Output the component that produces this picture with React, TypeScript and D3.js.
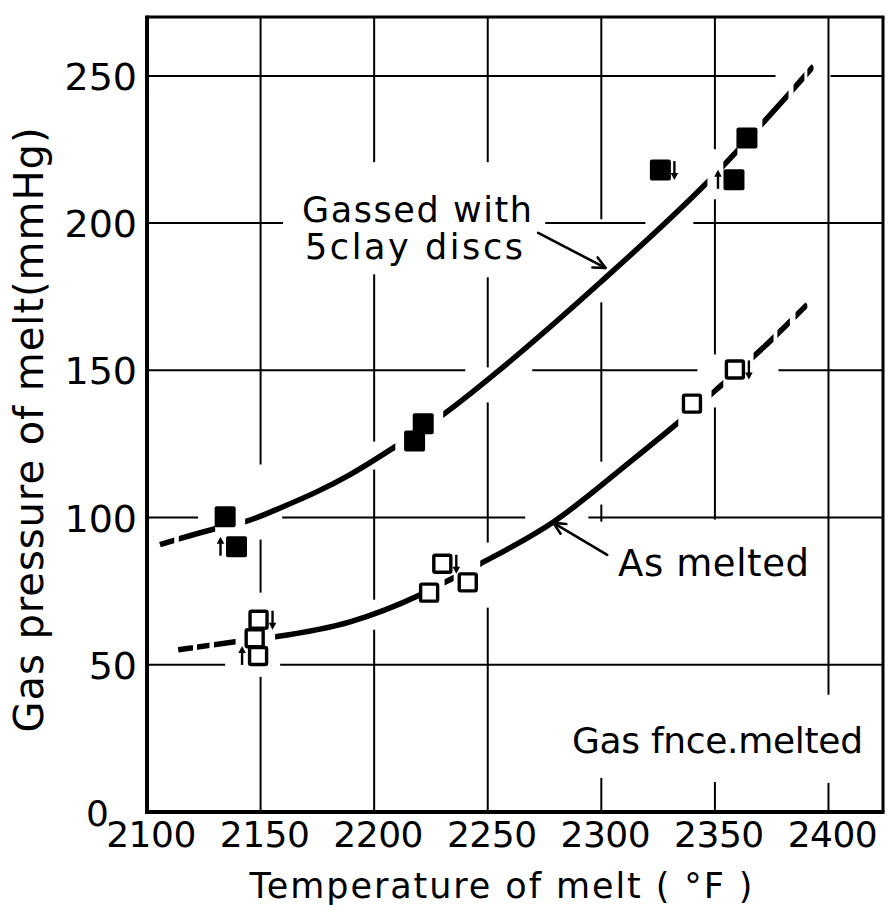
import React from 'react';
import * as d3 from 'd3';

// ---- axes ----
const xTicks = [2100, 2150, 2200, 2250, 2300, 2350, 2400];
const yTicks = [0, 50, 100, 150, 200, 250];
const xDomain = [2100, 2424];
const yDomain = [0, 270];

// ---- measured points: gassed with 5 clay discs (filled squares) ----
const gassedTemp = [2134.4, 2139.4, 2217.8, 2221.6, 2326, 2358.4, 2364.1];
const gassedPressure = [100.3, 90.1, 126, 131.9, 218, 214.7, 228.9];
const gassedArrow = ['', 'up', '', '', 'down', 'up', ''];

// ---- measured points: as melted (open squares) ----
const meltedTemp = [2147.4, 2149.1, 2148.9, 2224.2, 2230, 2241.2, 2339.9, 2358.8];
const meltedPressure = [59, 65.3, 53, 74.5, 84.3, 78, 138.7, 150.3];
const meltedArrow = ['', 'down', 'up', '', 'down', '', '', 'down'];

// ---- fitted curves ----
const gassedCurveT = [2105.7, 2130, 2143.2, 2159.9, 2174.9, 2189.4, 2209.3, 2230.4, 2255, 2299.6, 2346.7, 2393.4];
const gassedCurveP = [90.8, 96.2, 98.6, 103.7, 108.8, 114.6, 124.1, 135, 150, 179.9, 213.9, 253.3];
// visible pieces of the curve (dashes and solid runs), in °F
const gassedPieces = [
  [2105, 2112], [2114, 2130], [2143.2, 2209.3], [2230.4, 2346.7],
  [2353.7, 2359.9], [2370.9, 2382.4], [2384.6, 2389.4], [2390.7, 2393.4],
];

const meltedCurveT = [2113.7, 2138.8, 2156.4, 2189.4, 2220.3, 2232.6, 2246.7, 2278.9, 2312.8, 2333.9, 2350.7, 2371.4, 2390.7];
const meltedCurveP = [55.1, 57.8, 59.5, 64.6, 73.8, 78.6, 84.3, 98.5, 119, 132.3, 143.5, 157.8, 172.4];
const meltedPieces = [
  [2113.7, 2120.3], [2122, 2127.5], [2129.5, 2139], [2156.4, 2220.3], [2231, 2235],
  [2246.7, 2333.9], [2348.5, 2353.7], [2367, 2375.8], [2377.5, 2383], [2385.5, 2390.7],
];

// ---- gaps in the hand-drawn grid lines ----
const vGridGaps = [
  [],                                            // 2100 (axis)
  [[92.5, 118], [45.9, 74.5]],                   // 2150
  [[182.6, 220.7], [116.3, 125.8], [61.9, 72.1]], // 2200
  [[181.6, 220.7], [139.1, 151], [69.4, 91.5]],  // 2250
  [[173.1, 201.3], [104.4, 119], [11.6, 98.6]],  // 2300
  [[208.1, 225.1], [137.4, 155.4], [10.2, 99.3]], // 2350
  [[9.9, 39.8]],                                 // 2400
];
const hGridGaps = [
  [],                                            // 0 (axis)
  [[2134.4, 2158.6]],                            // 50
  [[2122.5, 2159.5], [2266.5, 2294.3]],          // 100
  [[2240.1, 2269.6], [2342.3, 2378]],            // 150
  [[2159.9, 2275.3], [2319.4, 2340.5]],          // 200
  [[2376.7, 2400.9]],                            // 250
];

// ---- annotations ----
const gassedLabel = ['Gassed with', '5clay discs'];
const meltedLabel = 'As melted';
const noteLabel = 'Gas fnce.melted';
const xTitle = 'Temperature of melt ( °F )';
const yTitle = 'Gas pressure of melt(mmHg)';
const gassedPointer = [[2272.2, 196.7], [2301.8, 184.8]];
const meltedPointer = [[2302.6, 87.3], [2278.9, 98.2]];

const FONT = "'DejaVu Sans', sans-serif";

function complement(gaps: number[][], lo: number, hi: number) {
  const g = [...gaps].sort((a, b) => a[0] - b[0]);
  const out: number[][] = [];
  let cur = lo;
  for (const [a, b] of g) {
    if (a > cur) out.push([cur, a]);
    cur = Math.max(cur, b);
  }
  if (cur < hi) out.push([cur, hi]);
  return out;
}

export default function App() {
  const W = 888, H = 914;
  const x = d3.scaleLinear().domain(xDomain).range([147, 883]);
  const y = d3.scaleLinear().domain(yDomain).range([812, 17]);
  const curve = d3.line<[number, number]>().x(d => x(d[0])).y(d => y(d[1])).curve(d3.curveMonotoneX);

  const gassedPath = curve(gassedCurveT.map((t, i) => [t, gassedCurveP[i]] as [number, number])) || '';
  const meltedPath = curve(meltedCurveT.map((t, i) => [t, meltedCurveP[i]] as [number, number])) || '';

  const pointer = (pts: number[][], key: string) => {
    const [x0, y0] = [x(pts[0][0]), y(pts[0][1])];
    const [x1, y1] = [x(pts[1][0]), y(pts[1][1])];
    const ang = Math.atan2(y1 - y0, x1 - x0);
    const L = 13, spread = 0.45;
    const h1 = [x1 - L * Math.cos(ang - spread), y1 - L * Math.sin(ang - spread)];
    const h2 = [x1 - L * Math.cos(ang + spread), y1 - L * Math.sin(ang + spread)];
    return (
      <g key={key} stroke="#000" strokeWidth={2.6} strokeLinecap="round" fill="none">
        <line x1={x0} y1={y0} x2={x1} y2={y1} />
        <polyline points={`${h1[0]},${h1[1]} ${x1},${y1} ${h2[0]},${h2[1]}`} strokeLinejoin="round" />
      </g>
    );
  };

  const smallArrow = (cx: number, cy: number, dir: string, key: string) => {
    if (!dir) return null;
    const ax = dir === 'down' ? cx + 14 : cx - 16;
    const top = cy - 9, bot = cy + 9;
    if (dir === 'down') {
      return (
        <g key={key}>
          <line x1={ax} y1={top} x2={ax} y2={bot - 4} stroke="#000" strokeWidth={2.4} />
          <polygon points={`${ax - 3.8},${bot - 6} ${ax + 3.8},${bot - 6} ${ax},${bot + 1}`} fill="#000" />
        </g>
      );
    }
    return (
      <g key={key}>
        <line x1={ax} y1={bot} x2={ax} y2={top + 4} stroke="#000" strokeWidth={2.4} />
        <polygon points={`${ax - 3.8},${top + 6} ${ax + 3.8},${top + 6} ${ax},${top - 1}`} fill="#000" />
      </g>
    );
  };

  const piecesFor = (pieces: number[][], path: string, id: string) => (
    <g>
      <defs>
        {pieces.map(([a, b], i) => (
          <clipPath id={`${id}-${i}`} key={i}>
            <rect x={x(a)} y={0} width={x(b) - x(a)} height={H} />
          </clipPath>
        ))}
      </defs>
      {pieces.map((_, i) => (
        <path key={i} d={path} fill="none" stroke="#000" strokeWidth={5.5} clipPath={`url(#${id}-${i})`} />
      ))}
    </g>
  );

  return (
    <svg width={W} height={H} style={{ position: 'absolute', left: 0, top: 0, background: '#fff' }}>
      <rect width={W} height={H} fill="#fff" />

      {/* grid */}
      <g stroke="#000" strokeWidth={2}>
        {xTicks.map((t, i) =>
          i === 0 ? null :
            complement(vGridGaps[i], yDomain[0], yDomain[1]).map(([a, b], j) => (
              <line key={`v${i}-${j}`} x1={x(t)} x2={x(t)} y1={y(a)} y2={y(b)} />
            ))
        )}
        {yTicks.map((v, i) =>
          i === 0 ? null :
            complement(hGridGaps[i], xDomain[0], xDomain[1]).map(([a, b], j) => (
              <line key={`h${i}-${j}`} y1={y(v)} y2={y(v)} x1={x(a)} x2={x(b)} />
            ))
        )}
      </g>

      {/* frame */}
      <line x1={x(xDomain[0])} x2={x(xDomain[0])} y1={y(yDomain[1]) - 1.5} y2={y(0) + 2} stroke="#000" strokeWidth={4} />
      <line x1={x(xDomain[0]) - 2} x2={x(xDomain[1]) + 1.5} y1={y(0)} y2={y(0)} stroke="#000" strokeWidth={4} />
      <line x1={x(xDomain[0])} x2={x(xDomain[1]) + 1.5} y1={y(yDomain[1])} y2={y(yDomain[1])} stroke="#000" strokeWidth={3} />
      <line x1={x(xDomain[1])} x2={x(xDomain[1])} y1={y(yDomain[1])} y2={y(0)} stroke="#000" strokeWidth={3} />

      {/* curves */}
      {piecesFor(gassedPieces, gassedPath, 'gc')}
      {piecesFor(meltedPieces, meltedPath, 'mc')}

      {/* markers */}
      {gassedTemp.map((t, i) => (
        <rect key={`g${i}`} x={x(t) - 10.5} y={y(gassedPressure[i]) - 10.5} width={21} height={21} rx={2} fill="#000" />
      ))}
      {gassedTemp.map((t, i) => smallArrow(x(t), y(gassedPressure[i]), gassedArrow[i], `ga${i}`))}
      {meltedTemp.map((t, i) => (
        <rect key={`m${i}`} x={x(t) - 8.5} y={y(meltedPressure[i]) - 8.5} width={17} height={17} rx={1.5}
          fill="#fff" stroke="#000" strokeWidth={3.4} />
      ))}
      {meltedTemp.map((t, i) => smallArrow(x(t), y(meltedPressure[i]), meltedArrow[i], `ma${i}`))}

      {/* pointers */}
      {pointer(gassedPointer, 'gp')}
      {pointer(meltedPointer, 'mp')}

      {/* tick labels */}
      <g fontFamily={FONT} fill="#000">
        {yTicks.map(v =>
          v === 0 ? (
            <text key={v} x={109} y={826} fontSize={36} textAnchor="end">{v}</text>
          ) : (
            <text key={v} x={137} y={y(v) + 14} fontSize={38} textAnchor="end">{v}</text>
          )
        )}
        {xTicks.map(t => (
          <text key={t} x={x(t) + 4} y={847} fontSize={36} textAnchor="middle" letterSpacing={-0.5}>{t}</text>
        ))}
      </g>

      {/* titles & labels */}
      <g fontFamily={FONT} fill="#000">
        <text x={501} y={898} fontSize={35} textAnchor="middle" textLength={503} lengthAdjust="spacing">{xTitle}</text>
        <text transform="translate(43,430) rotate(-90)" fontSize={40} textAnchor="middle" textLength={605} lengthAdjust="spacing">{yTitle}</text>
        <text x={302} y={222} fontSize={35} textLength={230} lengthAdjust="spacing">{gassedLabel[0]}</text>
        <text x={305} y={259} fontSize={35} textLength={218} lengthAdjust="spacing">{gassedLabel[1]}</text>
        <text x={618} y={576} fontSize={37} textLength={191} lengthAdjust="spacing">{meltedLabel}</text>
        <text x={572} y={753} fontSize={36} textLength={291} lengthAdjust="spacing">{noteLabel}</text>
      </g>
    </svg>
  );
}
